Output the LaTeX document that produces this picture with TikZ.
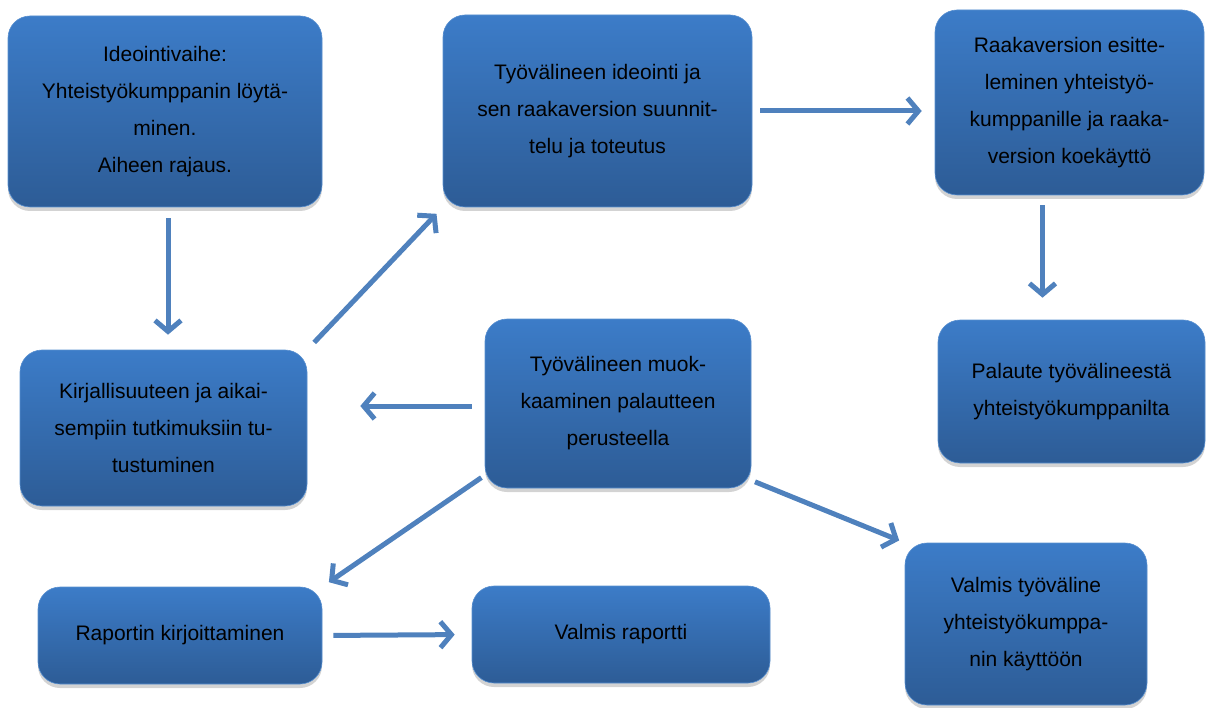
\documentclass[tikz,border=0pt]{standalone}
\usepackage{fontspec}
\setmainfont{Liberation Sans}
\usetikzlibrary{arrows.meta,shadows,calc}

\definecolor{boxtop}{RGB}{60,124,200}
\definecolor{boxbot}{RGB}{45,92,150}
\definecolor{arrblue}{RGB}{79,129,189}

\tikzset{
	stage/.style={rounded corners=22pt, top color=boxtop, bottom color=boxbot,
		draw=boxtop!85!white, line width=0.6pt, align=center, inner sep=0pt,
		font=\fontsize{21}{37}\selectfont,
		drop shadow={shadow xshift=0pt, shadow yshift=-4pt, opacity=0.35}},
	flow/.style={draw=arrblue, line width=5pt, -{Straight Barb[length=11pt,width=26pt]}},
}

\begin{document}
\begin{tikzpicture}[x=1pt,y=-1pt]
		{
			\useasboundingbox (0,0) rectangle (1214,708);

			\node[stage, minimum width=314, minimum height=191] (idea) at (165,111.5)
				{Ideointivaihe:\\Yhteistyökumppanin löytä-\\minen.\\Aiheen rajaus.};
			\node[stage, minimum width=309, minimum height=192] (tool) at (597.5,111)
				{Työvälineen ideointi ja\\sen raakaversion suunnit-\\telu ja toteutus};
			\node[stage, minimum width=269, minimum height=185] (rough) at (1069.5,102.5)
				{Raakaversion esitte-\\leminen yhteistyö-\\kumppanille ja raaka-\\version koekäyttö};
			\node[stage, minimum width=267, minimum height=143] (fb) at (1071.5,391.5)
				{Palaute työvälineestä\\yhteistyökumppanilta};
			\node[stage, minimum width=287, minimum height=156] (lit) at (163.5,428)
				{Kirjallisuuteen ja aikai-\\sempiin tutkimuksiin tu-\\tustuminen};
			\node[stage, minimum width=266, minimum height=169] (mod) at (618,403.5)
				{Työvälineen muok-\\kaaminen palautteen\\perusteella};
			\node[stage, minimum width=284, minimum height=97] (rep) at (180,635.5)
				{Raportin kirjoittaminen};
			\node[stage, minimum width=298, minimum height=97] (done) at (621,634.5)
				{Valmis raportti};
			\node[stage, minimum width=242, minimum height=162] (fin) at (1026,624)
				{Valmis työväline\\yhteistyökumppa-\\nin käyttöön};

			\draw[flow, shorten <=11pt, shorten >=15pt] ([xshift=3pt]idea.south) -- ([xshift=4.5pt]lit.north);
			\draw[flow, shorten <=10pt, shorten >=9pt] (lit.north east) -- (tool.south west);
			\draw[flow, shorten <=8pt, shorten >=13pt] (tool.east) -- (tool.east -| rough.west);
			\draw[flow, shorten <=10pt, shorten >=22pt] ([xshift=-27pt]rough.south) -- ([xshift=-27pt]rough.south |- fb.north);
			\draw[flow, shorten <=13pt, shorten >=53pt] ([yshift=-2.5pt]mod.west) -- ([yshift=-2.5pt]mod.west -| lit.east);
			\draw[flow, shorten <=4pt, shorten >=8pt] ([yshift=13pt]mod.south west) -- (rep.north east);
			\draw[flow, shorten <=4pt, shorten >=6pt] ([yshift=8pt]mod.south east) -- (fin.north west);
			\draw[flow, shorten <=11pt, shorten >=17pt] (rep.east) -- (done.west);
		}
	\end{tikzpicture}
\end{document}
